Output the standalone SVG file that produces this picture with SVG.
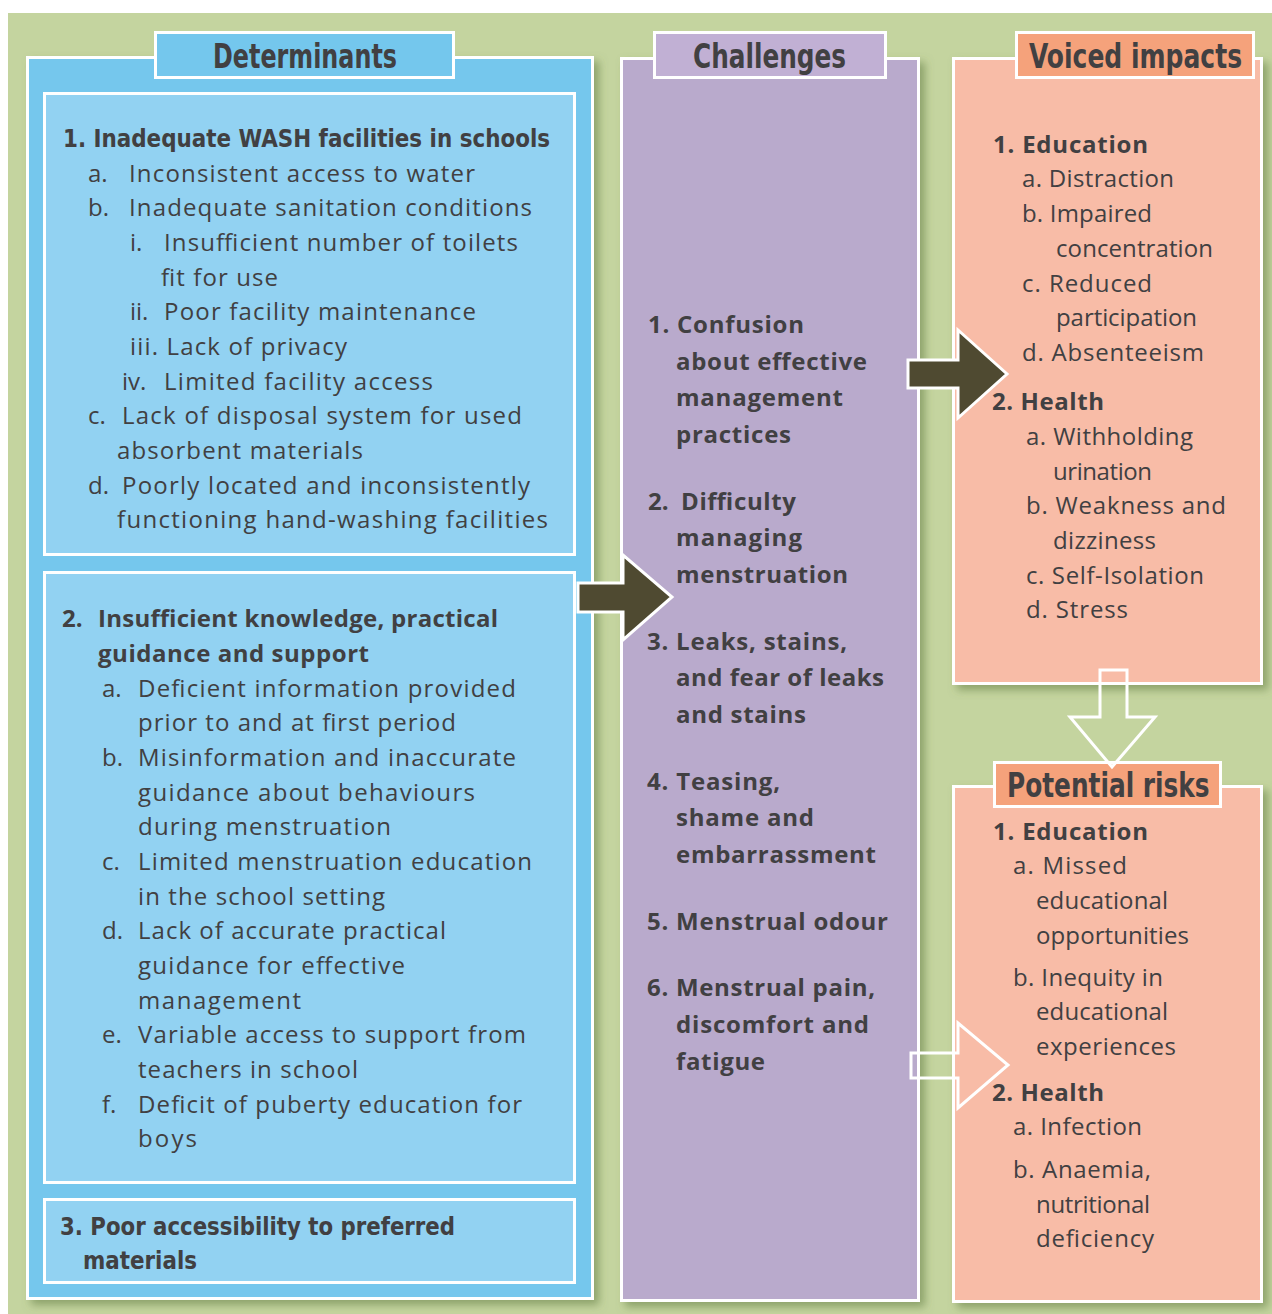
<svg xmlns="http://www.w3.org/2000/svg" width="1272" height="1314" viewBox="0 0 1272 1314">
<defs>
<filter id="sh" x="-10%" y="-10%" width="130%" height="130%">
<feDropShadow dx="5" dy="5" stdDeviation="4" flood-color="#5f7a3c" flood-opacity="0.55"/>
</filter>
<style>
.bg{fill:#c4d49f}
.box{stroke:#ffffff;stroke-width:3}
.blue{fill:#74c7ed}
.lblue{fill:#92d2f2}
.purp{fill:#b9aacc}
.tpurp{fill:#c1b0d4}
.pink{fill:#f8bca7}
.orng{fill:#f5a27b}
text{fill:#414042}
.r{font-family:"Open Sans","Noto Sans","Liberation Sans",sans-serif;font-size:24px}
.b{font-family:"Open Sans","Noto Sans","Liberation Sans",sans-serif;font-size:24px;font-weight:bold}
.c{font-family:"Liberation Sans Narrow","DejaVu Sans Condensed","Liberation Sans",sans-serif;font-weight:bold;font-size:25px}
.t{font-family:"Liberation Sans Narrow","DejaVu Sans Condensed","Liberation Sans",sans-serif;font-weight:bold;font-size:34px}
.solid{fill:#4f4a31;stroke:#ffffff;stroke-width:3}
.hollow{fill:none;stroke:#ffffff;stroke-width:3}
</style>
</defs>
<rect x="0" y="0" width="1272" height="1314" fill="#ffffff"/>
<rect class="bg" x="8" y="13" width="1264" height="1301"/>

<g id="determinants">
<rect class="box blue" x="27.5" y="57.5" width="565" height="1241" filter="url(#sh)"/>
<rect class="box lblue" x="44.5" y="93.5" width="530" height="461"/>
<rect class="box lblue" x="44.5" y="572.5" width="530" height="610"/>
<rect class="box lblue" x="44.5" y="1199.5" width="530" height="83"/>
<rect class="box blue" x="155.5" y="32.5" width="298" height="45"/>
<text class="t" transform="translate(213,68) scale(0.8,1)" x="0" y="0" textLength="230" lengthAdjust="spacingAndGlyphs">Determinants</text>

<text class="c" x="63" y="147" textLength="487" lengthAdjust="spacingAndGlyphs">1. Inadequate WASH facilities in schools</text>
<text class="r" x="88" y="182">a.</text><text class="r" x="129" y="182" textLength="346">Inconsistent access to water</text>
<text class="r" x="88" y="216">b.</text><text class="r" x="129" y="216" textLength="403">Inadequate sanitation conditions</text>
<text class="r" x="130" y="251">i.</text><text class="r" x="164" y="251" textLength="354">Insufficient number of toilets</text>
<text class="r" x="161" y="286" textLength="117">fit for use</text>
<text class="r" x="130" y="320">ii.</text><text class="r" x="164" y="320" textLength="312">Poor facility maintenance</text>
<text class="r" x="130" y="355" textLength="217">iii. Lack of privacy</text>
<text class="r" x="122" y="390">iv.</text><text class="r" x="164" y="390" textLength="269">Limited facility access</text>
<text class="r" x="88" y="424">c.</text><text class="r" x="122" y="424" textLength="400">Lack of disposal system for used</text>
<text class="r" x="117" y="459" textLength="246">absorbent materials</text>
<text class="r" x="88" y="494">d.</text><text class="r" x="122" y="494" textLength="408">Poorly located and inconsistently</text>
<text class="r" x="117" y="528" textLength="431">functioning hand-washing facilities</text>

<text class="b" x="62" y="627">2.</text><text class="b" x="98" y="627" textLength="400">Insufficient knowledge, practical</text>
<text class="b" x="98" y="662" textLength="271">guidance and support</text>
<text class="r" x="102" y="697">a.</text><text class="r" x="138" y="697" textLength="378">Deficient information provided</text>
<text class="r" x="138" y="731" textLength="318">prior to and at first period</text>
<text class="r" x="102" y="766">b.</text><text class="r" x="138" y="766" textLength="378">Misinformation and inaccurate</text>
<text class="r" x="138" y="801" textLength="337">guidance about behaviours</text>
<text class="r" x="138" y="835" textLength="253">during menstruation</text>
<text class="r" x="102" y="870">c.</text><text class="r" x="138" y="870" textLength="394">Limited menstruation education</text>
<text class="r" x="138" y="905" textLength="247">in the school setting</text>
<text class="r" x="102" y="939">d.</text><text class="r" x="138" y="939" textLength="308">Lack of accurate practical</text>
<text class="r" x="138" y="974" textLength="267">guidance for effective</text>
<text class="r" x="138" y="1009" textLength="163">management</text>
<text class="r" x="102" y="1043">e.</text><text class="r" x="138" y="1043" textLength="388">Variable access to support from</text>
<text class="r" x="138" y="1078" textLength="220">teachers in school</text>
<text class="r" x="102" y="1113">f.</text><text class="r" x="138" y="1113" textLength="384">Deficit of puberty education for</text>
<text class="r" x="138" y="1147" textLength="59">boys</text>

<text class="c" x="60" y="1235" textLength="395" lengthAdjust="spacingAndGlyphs">3. Poor accessibility to preferred</text>
<text class="c" x="83" y="1269" textLength="114" lengthAdjust="spacingAndGlyphs">materials</text>
</g>

<g id="challenges">
<rect class="box purp" x="621.5" y="58.5" width="297" height="1242" filter="url(#sh)"/>
<rect class="box tpurp" x="654.5" y="32.5" width="231" height="45"/>
<text class="t" transform="translate(693,68) scale(0.81,1)" x="0" y="0" textLength="189" lengthAdjust="spacingAndGlyphs">Challenges</text>
<text class="b" x="648" y="333" textLength="156">1. Confusion</text>
<text class="b" x="676" y="370" textLength="191">about effective</text>
<text class="b" x="676" y="406" textLength="167">management</text>
<text class="b" x="676" y="443" textLength="115">practices</text>
<text class="b" x="648" y="510">2.</text><text class="b" x="681" y="510" textLength="115">Difficulty</text>
<text class="b" x="676" y="546" textLength="126">managing</text>
<text class="b" x="676" y="583" textLength="172">menstruation</text>
<text class="b" x="647" y="650" textLength="200">3. Leaks, stains,</text>
<text class="b" x="676" y="686" textLength="208">and fear of leaks</text>
<text class="b" x="676" y="723" textLength="130">and stains</text>
<text class="b" x="647" y="790" textLength="133">4. Teasing,</text>
<text class="b" x="676" y="826" textLength="138">shame and</text>
<text class="b" x="676" y="863" textLength="200">embarrassment</text>
<text class="b" x="647" y="930" textLength="241">5. Menstrual odour</text>
<text class="b" x="647" y="996" textLength="228">6. Menstrual pain,</text>
<text class="b" x="676" y="1033" textLength="193">discomfort and</text>
<text class="b" x="676" y="1070" textLength="89">fatigue</text>
</g>

<g id="voiced-impacts">
<rect class="box pink" x="953.5" y="58.5" width="308" height="625" filter="url(#sh)"/>
<rect class="box orng" x="1016.5" y="32.5" width="237" height="45"/>
<text class="t" transform="translate(1029,68) scale(0.81,1)" x="0" y="0" textLength="263" lengthAdjust="spacingAndGlyphs">Voiced impacts</text>
<text class="b" x="993" y="153" textLength="155">1. Education</text>
<text class="r" x="1022" y="187" textLength="152">a. Distraction</text>
<text class="r" x="1022" y="222" textLength="130">b. Impaired</text>
<text class="r" x="1056" y="257" textLength="157">concentration</text>
<text class="r" x="1022" y="292" textLength="130">c. Reduced</text>
<text class="r" x="1056" y="326" textLength="141">participation</text>
<text class="r" x="1022" y="361" textLength="182">d. Absenteeism</text>
<text class="b" x="992" y="410" textLength="112">2. Health</text>
<text class="r" x="1026" y="445" textLength="167">a. Withholding</text>
<text class="r" x="1053" y="480" textLength="99">urination</text>
<text class="r" x="1026" y="514" textLength="200">b. Weakness and</text>
<text class="r" x="1053" y="549" textLength="103">dizziness</text>
<text class="r" x="1026" y="584" textLength="178">c. Self-Isolation</text>
<text class="r" x="1026" y="618" textLength="102">d. Stress</text>
</g>

<g id="potential-risks">
<rect class="box pink" x="953.5" y="786.5" width="308" height="515" filter="url(#sh)"/>
<rect class="box orng" x="994.5" y="762.5" width="226" height="44"/>
<text class="t" transform="translate(1007,797) scale(0.81,1)" x="0" y="0" textLength="250" lengthAdjust="spacingAndGlyphs">Potential risks</text>
<text class="b" x="993" y="840" textLength="155">1. Education</text>
<text class="r" x="1013" y="874" textLength="114">a. Missed</text>
<text class="r" x="1036" y="909" textLength="132">educational</text>
<text class="r" x="1036" y="944" textLength="153">opportunities</text>
<text class="r" x="1013" y="986" textLength="150">b. Inequity in</text>
<text class="r" x="1036" y="1020" textLength="132">educational</text>
<text class="r" x="1036" y="1055" textLength="140">experiences</text>
<text class="b" x="992" y="1101" textLength="112">2. Health</text>
<text class="r" x="1013" y="1135" textLength="129">a. Infection</text>
<text class="r" x="1013" y="1178" textLength="138">b. Anaemia,</text>
<text class="r" x="1036" y="1213" textLength="114">nutritional</text>
<text class="r" x="1036" y="1247" textLength="118">deficiency</text>
</g>

<g id="connectors">
<polygon class="solid" points="578,583 623,583 623,555 672,597 623,640 623,612 578,612"/>
<polygon class="solid" points="908,360 958,360 958,330 1007,374 958,418 958,388 908,388"/>
<polygon class="hollow" points="911,1053 958,1053 958,1023 1008,1065 958,1108 958,1078 911,1078"/>
<polygon class="hollow" points="1100,670 1127,670 1127,717 1155,717 1112,767 1070,717 1100,717"/>
</g>
</svg>
